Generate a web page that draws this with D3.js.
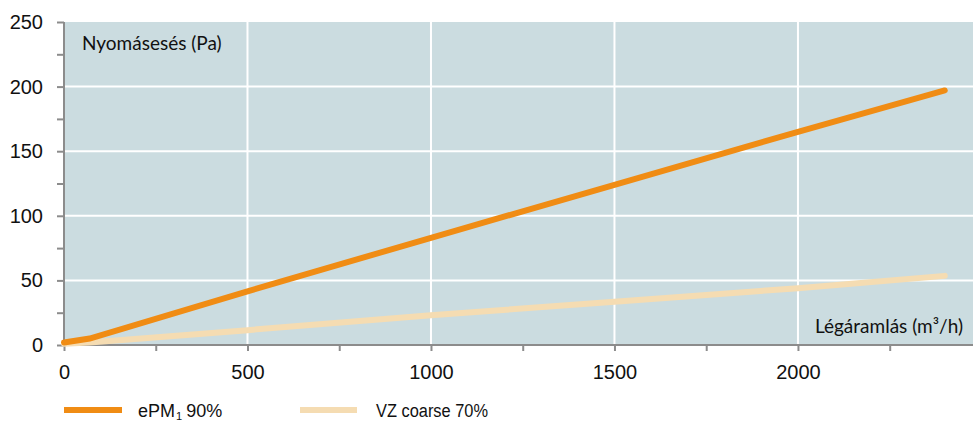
<!DOCTYPE html>
<html><head><meta charset="utf-8">
<script src="https://cdn.jsdelivr.net/npm/d3@7"></script>
<style>body{margin:0;background:#fff}svg{display:block}</style>
</head><body>
<svg id="c" width="973" height="425"></svg>
<script>
const xValues = [0, 70, 500, 1000, 1500, 2000, 2400];
const ePM1 = [2, 5, 41.5, 83, 124, 165, 197];
const vzCoarse = [1, 2, 11.5, 23, 33.5, 44, 53.5];
const seriesNames = ["ePM", "VZ coarse 70%"];
const xTicks = [0, 500, 1000, 1500, 2000];
const yTicks = [0, 50, 100, 150, 200, 250];
const yTitle = "Nyomásesés (Pa)";
const xTitle = "Légáramlás (m³/h)";

const svg = d3.select("#c");
const L = 64, R = 973, T = 22, B = 345;
const x = d3.scaleLinear().domain([0, 2477]).range([L, R]);
const y = d3.scaleLinear().domain([0, 250]).range([B, T]);
const numFont = "'Liberation Sans Narrow', 'Arial Narrow', sans-serif";
const txtFont = "Lato, 'Open Sans', sans-serif";

svg.append("rect").attr("x", L).attr("y", T).attr("width", R - L).attr("height", B - T).attr("fill", "#cbdce0");

// grid
svg.append("g").selectAll("line").data(xTicks.filter(d => d > 0)).join("line")
  .attr("x1", d => x(d)).attr("x2", d => x(d)).attr("y1", T).attr("y2", B)
  .attr("stroke", "#fff").attr("stroke-width", 2);
svg.append("g").selectAll("line").data(yTicks.filter(d => d > 0 && d < 250)).join("line")
  .attr("x1", L).attr("x2", R).attr("y1", d => y(d)).attr("y2", d => y(d))
  .attr("stroke", "#fff").attr("stroke-width", 2);

// axes
const yAxis = svg.append("g").attr("transform", `translate(${L},0)`)
  .call(d3.axisLeft(y).tickValues(d3.range(0, 251, 25)).tickSize(7).tickFormat(d => d % 50 === 0 ? d : ""));
const xAxis = svg.append("g").attr("transform", `translate(0,${B})`)
  .call(d3.axisBottom(x).tickValues(d3.range(0, 2477, 250)).tickSize(6).tickFormat(d => d % 500 === 0 ? d : ""));
[yAxis, xAxis].forEach(a => {
  a.select(".domain").attr("stroke", "#8c8c8c").attr("stroke-width", 2);
  a.selectAll(".tick line").attr("stroke", "#8c8c8c").attr("stroke-width", 2);
  a.selectAll(".tick text").attr("font-family", numFont).attr("font-size", 20).attr("fill", "#111");
});
yAxis.select(".domain").attr("d", `M0,${T}V${B}`);
yAxis.selectAll(".tick text").attr("x", -21).attr("dy", "0.32em");
xAxis.select(".domain").attr("d", `M${L},0H${R}`);
xAxis.selectAll(".tick text").attr("y", 20);

// lines
const line = d3.line().x((d, i) => x(xValues[i])).y(d => y(d));
svg.append("path").datum(vzCoarse).attr("d", line).attr("fill", "none")
  .attr("stroke", "#f5dcb2").attr("stroke-width", 6).attr("stroke-linecap", "round");
svg.append("path").datum(ePM1).attr("d", line).attr("fill", "none")
  .attr("stroke", "#f08c14").attr("stroke-width", 6).attr("stroke-linecap", "round");

// titles
svg.append("text").attr("x", 82).attr("y", 50).attr("font-family", txtFont).attr("font-size", 19)
  .attr("fill", "#111").text(yTitle);
svg.append("text").attr("x", 963).attr("y", 333).attr("text-anchor", "end").attr("font-family", txtFont)
  .attr("font-size", 19).attr("fill", "#111").text(xTitle);

// legend
const leg = svg.append("g");
leg.append("line").attr("x1", 64).attr("x2", 122).attr("y1", 410).attr("y2", 410)
  .attr("stroke", "#f08c14").attr("stroke-width", 6);
const a1 = leg.append("text").attr("x", 138).attr("y", 417).attr("font-family", numFont).attr("font-size", 18)
  .attr("fill", "#111").text(seriesNames[0]);
let xe = 138 + a1.node().getComputedTextLength() + 1;
const a2 = leg.append("text").attr("x", xe).attr("y", 420).attr("font-family", numFont).attr("font-size", 11)
  .attr("fill", "#111").text("1");
xe += a2.node().getComputedTextLength() + 4;
leg.append("text").attr("x", xe).attr("y", 417).attr("font-family", numFont).attr("font-size", 18)
  .attr("fill", "#111").text("90%");
leg.append("line").attr("x1", 300).attr("x2", 357).attr("y1", 410).attr("y2", 410)
  .attr("stroke", "#f5dcb2").attr("stroke-width", 6);
leg.append("text").attr("x", 376).attr("y", 417).attr("font-family", numFont).attr("font-size", 18).attr("fill", "#111")
  .attr("textLength", 112).attr("lengthAdjust", "spacingAndGlyphs").text(seriesNames[1]);
</script>
</body></html>
